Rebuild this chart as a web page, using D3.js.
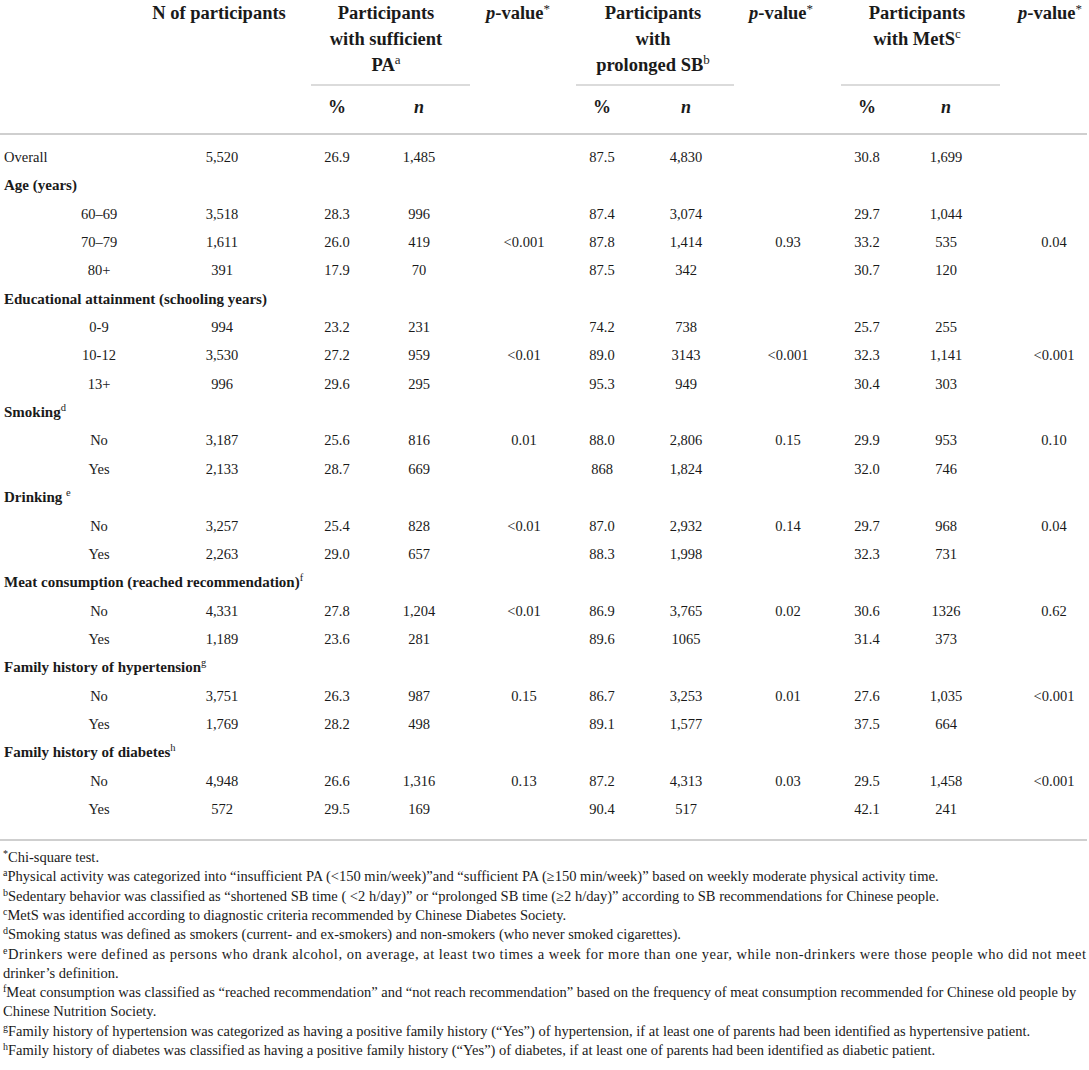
<!DOCTYPE html>
<html>
<head>
<meta charset="utf-8">
<script src="https://cdn.jsdelivr.net/npm/d3@7"></script>
</head>
<body style="margin:0">
<script>
// ---------- DATA ----------
const rowLabels = ["Overall", "Age (years)", "60\u201369", "70\u201379", "80+",
  "Educational attainment (schooling years)", "0-9", "10-12", "13+",
  "Smoking", "No", "Yes", "Drinking ", "No", "Yes",
  "Meat consumption (reached recommendation)", "No", "Yes",
  "Family history of hypertension", "No", "Yes",
  "Family history of diabetes", "No", "Yes"];
const rowSups = ["", "", "", "", "", "", "", "", "", "d", "", "", "e", "", "",
  "f", "", "", "g", "", "", "h", "", ""];
const nParticipants = ["5,520", "", "3,518", "1,611", "391", "", "994", "3,530", "996",
  "", "3,187", "2,133", "", "3,257", "2,263", "", "4,331", "1,189", "", "3,751", "1,769", "", "4,948", "572"];
const paPct = ["26.9", "", "28.3", "26.0", "17.9", "", "23.2", "27.2", "29.6",
  "", "25.6", "28.7", "", "25.4", "29.0", "", "27.8", "23.6", "", "26.3", "28.2", "", "26.6", "29.5"];
const paN = ["1,485", "", "996", "419", "70", "", "231", "959", "295",
  "", "816", "669", "", "828", "657", "", "1,204", "281", "", "987", "498", "", "1,316", "169"];
const paP = ["", "", "", "<0.001", "", "", "", "<0.01", "",
  "", "0.01", "", "", "<0.01", "", "", "<0.01", "", "", "0.15", "", "", "0.13", ""];
const sbPct = ["87.5", "", "87.4", "87.8", "87.5", "", "74.2", "89.0", "95.3",
  "", "88.0", "868", "", "87.0", "88.3", "", "86.9", "89.6", "", "86.7", "89.1", "", "87.2", "90.4"];
const sbN = ["4,830", "", "3,074", "1,414", "342", "", "738", "3143", "949",
  "", "2,806", "1,824", "", "2,932", "1,998", "", "3,765", "1065", "", "3,253", "1,577", "", "4,313", "517"];
const sbP = ["", "", "", "0.93", "", "", "", "<0.001", "",
  "", "0.15", "", "", "0.14", "", "", "0.02", "", "", "0.01", "", "", "0.03", ""];
const msPct = ["30.8", "", "29.7", "33.2", "30.7", "", "25.7", "32.3", "30.4",
  "", "29.9", "32.0", "", "29.7", "32.3", "", "30.6", "31.4", "", "27.6", "37.5", "", "29.5", "42.1"];
const msN = ["1,699", "", "1,044", "535", "120", "", "255", "1,141", "303",
  "", "953", "746", "", "968", "731", "", "1326", "373", "", "1,035", "664", "", "1,458", "241"];
const msP = ["", "", "", "0.04", "", "", "", "<0.001", "",
  "", "0.10", "", "", "0.04", "", "", "0.62", "", "", "<0.001", "", "", "<0.001", ""];

const groupHeaders = [
  {key: "pa", lines: ["Participants", "with sufficient", "PA"], sup: "a"},
  {key: "sb", lines: ["Participants", "with", "prolonged SB"], sup: "b"},
  {key: "ms", lines: ["Participants", "with MetS"], sup: "c", supLine: 1}
];

const footnotes = [
  {mark: "*", lines: ["Chi-square test."]},
  {mark: "a", lines: ["Physical activity was categorized into \u201cinsufficient PA (<150 min/week)\u201dand \u201csufficient PA (\u2265150 min/week)\u201d based on weekly moderate physical activity time."]},
  {mark: "b", lines: ["Sedentary behavior was classified as \u201cshortened SB time ( <2 h/day)\u201d or \u201cprolonged SB time (\u22652 h/day)\u201d according to SB recommendations for Chinese people."]},
  {mark: "c", lines: ["MetS was identified according to diagnostic criteria recommended by Chinese Diabetes Society."]},
  {mark: "d", lines: ["Smoking status was defined as smokers (current- and ex-smokers) and non-smokers (who never smoked cigarettes)."]},
  {mark: "e", lines: ["Drinkers were defined as persons who drank alcohol, on average, at least two times a week for more than one year, while non-drinkers were those people who did not meet", "drinker\u2019s definition."], justify: true},
  {mark: "f", lines: ["Meat consumption was classified as \u201creached recommendation\u201d and \u201cnot reach recommendation\u201d based on the frequency of meat consumption recommended for Chinese old people by", "Chinese Nutrition Society."]},
  {mark: "g", lines: ["Family history of hypertension was categorized as having a positive family history (\u201cYes\u201d) of hypertension, if at least one of parents had been identified as hypertensive patient."]},
  {mark: "h", lines: ["Family history of diabetes was classified as having a positive family history (\u201cYes\u201d) of diabetes, if at least one of parents had been identified as diabetic patient."]}
];

// ---------- LAYOUT ----------
const W = 1089, H = 1070;
const FONT = "Liberation Serif";
const svg = d3.select("body").append("svg").attr("width", W).attr("height", H)
  .style("display", "block");

const colKeys = ["sub", "N", "paPct", "paN", "paP", "sbPct", "sbN", "sbP", "msPct", "msN", "msP"];
const x = d3.scaleOrdinal().domain(colKeys).range([99, 222, 337, 419, 524, 602, 686, 788, 867, 946, 1054]);
const y = d3.scalePoint().domain(d3.range(rowLabels.length)).range([157, 809]);

const headX = d3.scaleOrdinal().domain(["N", "pa", "paP", "sb", "sbP", "ms", "msP"])
  .range([219, 386, 518, 653, 781, 917, 1050]);
const groupSpan = {pa: [311, 470], sb: [576, 734], ms: [841, 1000]};
const headY = d3.scalePoint().domain([0, 1, 2]).range([19, 71]);   // header baselines

const base = 5;
const lineColor = "#cfcfcf";
const HF = 18.5;   // header font size

function txt(sel, px, weight) {
  return sel.append("text")
    .style("font-family", `"${FONT}"`)
    .style("font-size", px + "px")
    .style("font-weight", weight || "normal")
    .style("fill", "#1a1a1a");
}

// Header
txt(svg, HF, "bold").attr("x", headX("N")).attr("y", headY(0))
  .attr("text-anchor", "middle").text("N of participants");

groupHeaders.forEach(g => {
  g.lines.forEach((ln, i) => {
    const t = txt(svg, HF, "bold").attr("x", headX(g.key)).attr("y", headY(i))
      .attr("text-anchor", "middle");
    t.append("tspan").text(ln);
    const supLine = g.supLine !== undefined ? g.supLine : g.lines.length - 1;
    if (i === supLine) {
      t.append("tspan").style("font-size", "13px").style("font-weight", "normal").attr("dy", -7).text(g.sup);
    }
  });
  svg.append("line").attr("x1", groupSpan[g.key][0]).attr("x2", groupSpan[g.key][1])
    .attr("y1", 85).attr("y2", 85).attr("stroke", lineColor).attr("stroke-width", 1.5);
  txt(svg, 18, "bold").attr("x", x(g.key + "Pct")).attr("y", 112.5)
    .attr("text-anchor", "middle").text("%");
  txt(svg, 18, "bold").attr("x", x(g.key + "N")).attr("y", 112.5)
    .attr("text-anchor", "middle").style("font-style", "italic").text("n");
});

["paP", "sbP", "msP"].forEach(k => {
  const t = txt(svg, HF, "bold").attr("x", headX(k)).attr("y", headY(0))
    .attr("text-anchor", "middle");
  t.append("tspan").style("font-style", "italic").text("p");
  t.append("tspan").text("-value");
  t.append("tspan").style("font-size", "13px").style("font-weight", "normal").attr("dy", -6).text("*");
});

// Rules
svg.append("line").attr("x1", 0).attr("x2", 1087).attr("y1", 134).attr("y2", 134)
  .attr("stroke", lineColor).attr("stroke-width", 1.8);
svg.append("line").attr("x1", 0).attr("x2", 1087).attr("y1", 840).attr("y2", 840)
  .attr("stroke", lineColor).attr("stroke-width", 1.8);

// Body
const rows = rowLabels.map((lab, i) => ({
  i, lab, sup: rowSups[i], N: nParticipants[i],
  paPct: paPct[i], paN: paN[i], paP: paP[i],
  sbPct: sbPct[i], sbN: sbN[i], sbP: sbP[i],
  msPct: msPct[i], msN: msN[i], msP: msP[i]
}));

rows.forEach(r => {
  const isGroup = r.N === "";
  const isOverall = r.i === 0;
  const lt = txt(svg, isGroup ? 15 : 14.5, isGroup ? "bold" : "normal").attr("y", y(r.i) + base);
  if (isGroup || isOverall) {
    lt.attr("x", 4).attr("text-anchor", "start");
  } else {
    lt.attr("x", x("sub")).attr("text-anchor", "middle");
  }
  lt.append("tspan").text(r.lab);
  if (r.sup) lt.append("tspan").style("font-size", "10.5px").style("font-weight", "normal").attr("dy", -6).text(r.sup);

  colKeys.slice(1).forEach(k => {
    if (r[k]) {
      txt(svg, 14.5).attr("x", x(k)).attr("y", y(r.i) + base)
        .attr("text-anchor", "middle").text(r[k]);
    }
  });
});

// Footnotes
const fny = d3.scaleLinear().domain([0, 10]).range([857, 1050]);
let li = 0;
footnotes.forEach(f => {
  f.lines.forEach((ln, j) => {
    const t = txt(svg, 14.5).attr("x", 3).attr("y", fny(li) + 5);
    if (j === 0) {
      t.append("tspan").style("font-size", "10px").attr("dy", -5).text(f.mark);
      t.append("tspan").attr("dy", 5).text(ln);
      if (f.justify) t.attr("textLength", 1083).attr("lengthAdjust", "spacing");
    } else {
      t.text(ln);
    }
    li++;
  });
});
</script>
</body>
</html>
